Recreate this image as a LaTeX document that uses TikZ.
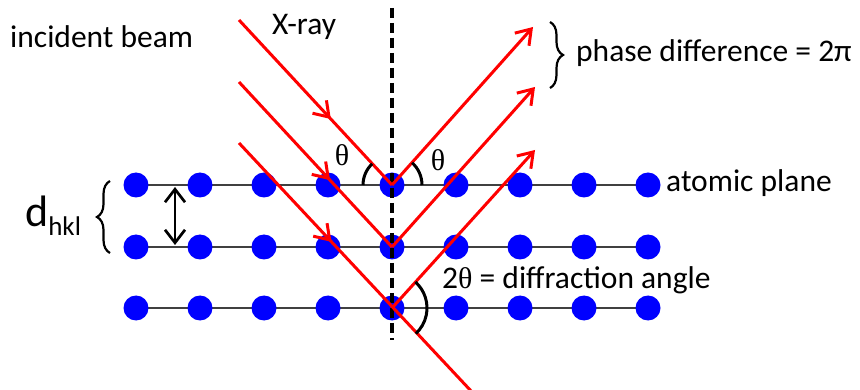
\documentclass[tikz,border=0pt]{standalone}
\usepackage{fontspec}
\setmainfont{Carlito}
\newfontfamily\symf{Liberation Serif}
\usetikzlibrary{arrows.meta,decorations.markings,decorations.pathreplacing}
\definecolor{atomblue}{RGB}{0,0,255}
\definecolor{rayred}{RGB}{255,0,0}
\tikzset{
  atom/.style={circle,fill=atomblue,minimum size=25pt,inner sep=0pt},
  plane/.style={line width=1.8pt,draw=black!75},
  ray/.style={line width=3pt,draw=rayred},
  barb/.style={-{Straight Barb[length=14pt,width=19pt]}},
  midarrow/.style={postaction={decorate},decoration={markings,mark=at position #1 with {\arrow[rayred,line width=3pt]{Straight Barb[length=14pt,width=19pt]}}}},
  anglearc/.style={line width=3pt,draw=black},
  lbl/.style={inner sep=0pt,font=\fontsize{31.5}{36}\selectfont},
  thl/.style={inner sep=0pt,font=\fontsize{30}{34}\selectfont\symf},
  bracestyle/.style={line width=2.2pt,decorate,decoration={brace,amplitude=13pt}}
}
\begin{document}
\begin{tikzpicture}[x=1pt,y=-1pt]
\useasboundingbox (0,0) rectangle (860,390);
% atom positions
\foreach \r/\y in {1/185,2/247,3/308}{
  \foreach \i in {0,...,8}{
    \coordinate (c\r\i) at ({136+64*\i},\y);
  }
  \draw[plane] (c\r0) -- (c\r8);
  \foreach \i in {0,...,8}{
    \node[atom] (a\r\i) at (c\r\i) {};
  }
}
% dashed normal
\coordinate (ntop) at (392,8);
\coordinate (nbot) at (392,340);
\draw[line width=3.2pt,dash pattern=on 10pt off 5pt] (ntop) -- (nbot);
% incident rays
\coordinate (s1) at (239,20);
\coordinate (s2) at (239,82);
\coordinate (s3) at (239,143);
\coordinate (e3) at (472,392);
\draw[ray,midarrow=0.6] (s1) -- (a14.center);
\draw[ray,midarrow=0.595] (s2) -- (a24.center);
\draw[ray,midarrow=0.397] (s3) -- (e3);
% diffracted rays
\coordinate (t1) at (533,27);
\coordinate (t2) at (535,87);
\coordinate (t3) at (535,150);
\draw[ray,barb] (a14.center) -- (t1);
\draw[ray,barb] (a24.center) -- (t2);
\draw[ray,barb] (a34.center) -- (t3);
% angle arcs
\draw[anglearc] (a14.center) ++(-133:29) arc[start angle=-133,end angle=-180,radius=29];
\draw[anglearc] (a14.center) ++(0:30) arc[start angle=0,end angle=-48,radius=30];
\draw[anglearc] (a34.center) ++(-48:35) arc[start angle=-48,end angle=47,radius=35];
% labels
\node[thl] (thL) at (342,155) {θ};
\node[thl] (thR) at (438,160) {θ};
\node[lbl,anchor=base west] (inc) at (10,48) {incident beam};
\node[lbl,anchor=base west] (xray) at (272,35) {X-ray};
\node[lbl,anchor=base west] (phase) at (576,62) {phase difference = 2π};
\node[lbl,anchor=base west] (ap) at (666,192) {atomic plane};
\node[lbl,anchor=base west] (da) at (442,289) {2{\fontsize{30}{34}\symf θ} = diffraction angle};
\node[inner sep=0pt,anchor=base west] (dhkl) at (25,227) {\fontsize{44}{44}\selectfont d\raisebox{-9pt}{\fontsize{27}{27}\selectfont hkl}};
% braces
\coordinate (lbb) at (110,253);
\coordinate (lbt) at (110,181);
\draw[bracestyle] (lbb) -- (lbt);
\coordinate (rbt) at (550,22);
\coordinate (rbb) at (550,88);
\draw[bracestyle] (rbt) -- (rbb);
% d spacing double arrow
\coordinate (dtop) at (175,187);
\coordinate (dbot) at (175,245);
\draw[line width=2.7pt,{Straight Barb[length=13pt,width=20pt]}-{Straight Barb[length=13pt,width=20pt]}] (dtop) -- (dbot);
\end{tikzpicture}
\end{document}
